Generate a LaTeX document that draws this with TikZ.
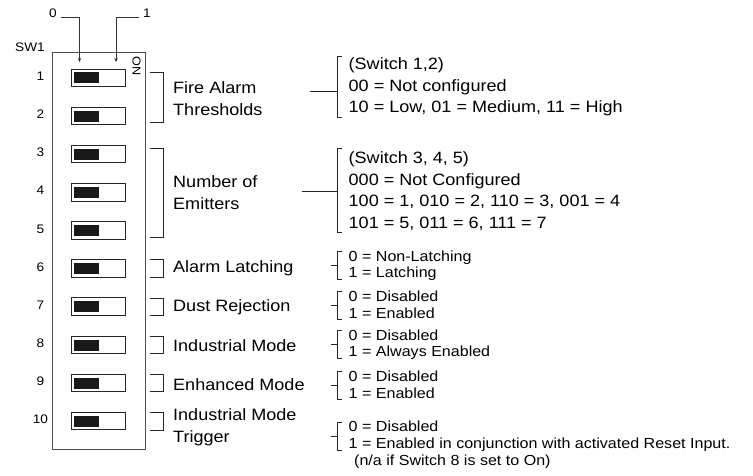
\documentclass[tikz,border=0pt]{standalone}
\usepackage{fontspec}
\setmainfont[FakeStretch=1.1]{Liberation Sans}
\usetikzlibrary{arrows.meta}

\tikzset{
  dipbody/.style={draw=black!70, line width=0.8pt},
  dipslot/.style={draw=black!85, line width=0.9pt},
  dipknob/.style={fill=black!90},
  numlabel/.style={inner sep=0pt, font=\fontsize{12.4}{14}\selectfont},
  leftlabel/.style={anchor=west, align=left, inner sep=0pt, font=\fontsize{16.4}{21.5}\selectfont},
  biglabel/.style={anchor=west, align=left, inner sep=0pt, font=\fontsize{16.4}{21.5}\selectfont},
  smalllabel/.style={anchor=west, align=left, inner sep=0pt, font=\fontsize{14.6}{16.5}\selectfont},
  brace/.style={draw=black!85, line width=0.8pt},
  pointer/.style={draw=black!80, line width=0.8pt, -{Stealth[length=4pt,width=3.5pt]}}
}

\begin{document}
\begin{tikzpicture}[x=1pt, y=-1pt]
\useasboundingbox (0,0) rectangle (753,476);
% Set the switch dimensions
\def\slotw{54.5}
\def\sloth{17.5}

% Draw the housing and the labels on top
\draw[dipbody] (52,52) rectangle (145,449);
\node[numlabel] (sw) at (30,47) {SW1};
\node[numlabel] (off) at (53,13) {0};
\node[numlabel] (on) at (147,13) {1};
\node[rotate=-90, inner sep=0pt, font=\fontsize{11.5}{14}\selectfont] (onmark) at (136.5,66) {ON};
\coordinate (offtip) at (79.5,62);
\coordinate (ontip) at (116,62);
\draw[pointer] ([xshift=4pt]off.base east) -| (offtip);
\draw[pointer] ([xshift=-4pt]on.base west) -| (ontip);

% Draw the switches and insert the numbers
\draw[dipslot] (71, 69.0) rectangle +(\slotw,\sloth);
\fill[dipknob] (74, 72.5) rectangle +(24.5,11);
\node[numlabel] (n1) at (40.5, 76.3) {1};
\draw[dipslot] (71, 107.2) rectangle +(\slotw,\sloth);
\fill[dipknob] (74, 110.7) rectangle +(24.5,11);
\node[numlabel] (n2) at (40.5, 114.4) {2};
\draw[dipslot] (71, 145.3) rectangle +(\slotw,\sloth);
\fill[dipknob] (74, 148.8) rectangle +(24.5,11);
\node[numlabel] (n3) at (40.5, 152.6) {3};
\draw[dipslot] (71, 183.5) rectangle +(\slotw,\sloth);
\fill[dipknob] (74, 187.0) rectangle +(24.5,11);
\node[numlabel] (n4) at (40.5, 190.7) {4};
\draw[dipslot] (71, 221.6) rectangle +(\slotw,\sloth);
\fill[dipknob] (74, 225.1) rectangle +(24.5,11);
\node[numlabel] (n5) at (40.5, 228.9) {5};
\draw[dipslot] (71, 259.8) rectangle +(\slotw,\sloth);
\fill[dipknob] (74, 263.3) rectangle +(24.5,11);
\node[numlabel] (n6) at (40.5, 267.0) {6};
\draw[dipslot] (71, 297.9) rectangle +(\slotw,\sloth);
\fill[dipknob] (74, 301.4) rectangle +(24.5,11);
\node[numlabel] (n7) at (40.5, 305.2) {7};
\draw[dipslot] (71, 336.1) rectangle +(\slotw,\sloth);
\fill[dipknob] (74, 339.6) rectangle +(24.5,11);
\node[numlabel] (n8) at (40.5, 343.3) {8};
\draw[dipslot] (71, 374.2) rectangle +(\slotw,\sloth);
\fill[dipknob] (74, 377.7) rectangle +(24.5,11);
\node[numlabel] (n9) at (40.5, 381.5) {9};
\draw[dipslot] (71, 412.4) rectangle +(\slotw,\sloth);
\fill[dipknob] (74, 415.9) rectangle +(24.5,11);
\node[numlabel] (n10) at (40.5, 419.6) {10};

% Brackets next to the switches
\draw[brace] (150,72.5) -- (163.3,72.5) -- (163.3,122) -- (150,122);
\draw[brace] (150,148.5) -- (163.3,148.5) -- (163.3,237) -- (150,237);
\draw[brace] (150,259.8) -- (163.3,259.8) -- (163.3,277.3) -- (150,277.3);
\draw[brace] (150,297.9) -- (163.3,297.9) -- (163.3,315.4) -- (150,315.4);
\draw[brace] (150,336.1) -- (163.3,336.1) -- (163.3,353.6) -- (150,353.6);
\draw[brace] (150,374.2) -- (163.3,374.2) -- (163.3,391.7) -- (150,391.7);
\draw[brace] (150,412.4) -- (163.3,412.4) -- (163.3,429.9) -- (150,429.9);

% Functions
\node[leftlabel] (fire) at (173,98.5) {Fire Alarm\\Thresholds};
\node[leftlabel] (emit) at (173,192.5) {Number of\\Emitters};
\node[leftlabel] (latch) at (173,268.5) {Alarm Latching};
\node[leftlabel] (dust) at (173,307.5) {Dust Rejection};
\node[leftlabel] (indus) at (173,345.5) {Industrial Mode};
\node[leftlabel] (enh) at (173,384.5) {Enhanced Mode};
\node[leftlabel] (trig) at (173,427.5) {Industrial Mode\\Trigger};

% Settings
\node[biglabel] (firevals) at (348.5,87) {(Switch 1,2)\\00 = Not configured\\10 = Low, 01 = Medium, 11 = High};
\node[biglabel] (emitvals) at (348.5,191) {(Switch 3, 4, 5)\\000 = Not Configured\\100 = 1, 010 = 2, 110 = 3, 001 = 4\\101 = 5, 011 = 6, 111 = 7};
\node[smalllabel] (latchvals) at (348.5,265.5) {0 = Non-Latching\\1 = Latching};
\node[smalllabel] (dustvals) at (348.5,305) {0 = Disabled\\1 = Enabled};
\node[smalllabel] (indusvals) at (348.5,344.5) {0 = Disabled\\1 = Always Enabled};
\node[smalllabel] (enhvals) at (348.5,385) {0 = Disabled\\1 = Enabled};
\node[smalllabel] (trigvals) at (348.5,436) {0 = Disabled\\1 = Enabled in conjunction with activated Reset Input.};
\node[smalllabel] (trignote) at (354,461.5) {(n/a if Switch 8 is set to On)};

% Brackets before the settings
\draw[brace] (342,56) -- (337,56) -- (337,117) -- (342,117);
\draw[brace] (342,148) -- (337,148) -- (337,232) -- (342,232);
\draw[brace] (342,251.5) -- (337,251.5) -- (337,279.5) -- (342,279.5);
\draw[brace] (342,291) -- (337,291) -- (337,319) -- (342,319);
\draw[brace] (342,330.5) -- (337,330.5) -- (337,358.5) -- (342,358.5);
\draw[brace] (342,371) -- (337,371) -- (337,399) -- (342,399);
\draw[brace] (342,422) -- (337,422) -- (337,450) -- (342,450);
\coordinate (firein) at (310,91);
\coordinate (fireout) at (337,91);
\coordinate (emitin) at (302,191.5);
\coordinate (emitout) at (337,191.5);
\draw[brace] (firein) -- (fireout);
\draw[brace] (emitin) -- (emitout);
\coordinate (latchin) at (331,265.5);
\coordinate (latchout) at (337,265.5);
\coordinate (dustin) at (331,305);
\coordinate (dustout) at (337,305);
\coordinate (indusin) at (331,344.5);
\coordinate (indusout) at (337,344.5);
\coordinate (enhin) at (331,385);
\coordinate (enhout) at (337,385);
\coordinate (trigin) at (331,436);
\coordinate (trigout) at (337,436);
\draw[brace] (latchin) -- (latchout);
\draw[brace] (dustin) -- (dustout);
\draw[brace] (indusin) -- (indusout);
\draw[brace] (enhin) -- (enhout);
\draw[brace] (trigin) -- (trigout);
\end{tikzpicture}
\end{document}
